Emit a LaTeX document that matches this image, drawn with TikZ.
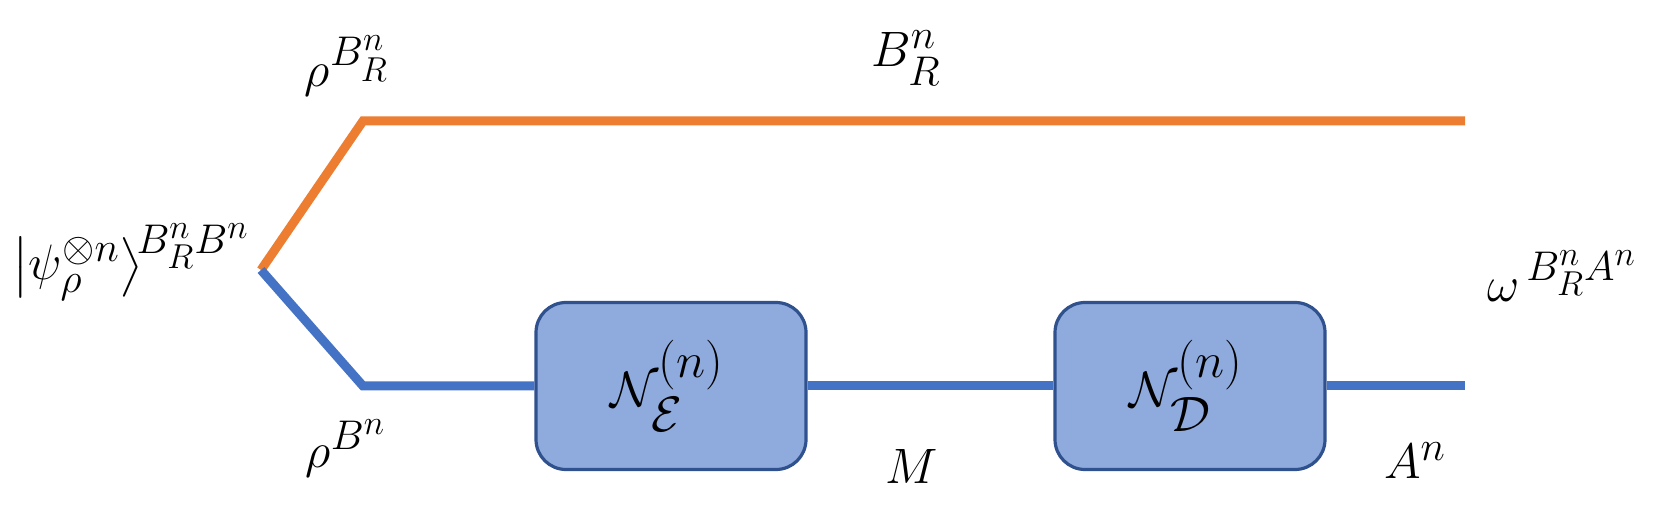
\documentclass[tikz,border=0pt]{standalone}
\usepackage{amsmath}
\DeclareMathSizes{30}{30}{22}{17}
\DeclareMathSizes{36}{36}{27}{20}
\definecolor{myorange}{HTML}{ED7D31}
\definecolor{myblue}{HTML}{4472C4}
\definecolor{boxfill}{HTML}{8FAADC}
\definecolor{boxborder}{HTML}{2F528F}
\begin{document}
\begin{tikzpicture}[x=0.5pt,y=-0.5pt,
  wire/.style={line width=4.5pt},
  orangewire/.style={wire,draw=myorange},
  bluewire/.style={wire,draw=myblue},
  chan/.style={draw=boxborder,line width=1.6pt,fill=boxfill,rounded corners=15pt,
    minimum width=135pt,minimum height=83.5pt,inner sep=0pt,
    font=\fontsize{36}{40}\selectfont},
  lab/.style={font=\fontsize{30}{34}\selectfont,inner sep=0pt}]
\useasboundingbox (0,0) rectangle (1663,517);
\coordinate (v) at (261,270);
\coordinate (tl) at (363,121);
\coordinate (tr) at (1465,121);
\coordinate (bl) at (363,386);
\coordinate (br) at (1465,386);
\node[chan] (E) at (671,386) {$\mathcal{N}_{\mathcal{E}}^{(n)}$\hspace*{4pt}};
\node[chan] (D) at (1190,386) {$\mathcal{N}_{\mathcal{D}}^{(n)}$\hspace*{4pt}};
\draw[orangewire] (v) -- (tl) -- (tr);
\draw[bluewire] (v) -- (bl) -- (E.west);
\draw[bluewire] (E.east) -- (D.west);
\draw[bluewire] (D.east) -- (br);
\node[lab,anchor=west] (ket) at (12,262) {$\left|\psi_{\rho}^{\otimes n}\right\rangle^{\!B_R^nB^n}$};
\node[lab] (rt) at (347,66) {$\rho^{B_R^n}$};
\node[lab] (bt) at (906,58) {$B_R^n$};
\node[lab] (om) at (1562,276) {$\omega^{\,B_R^nA^n}$};
\node[lab] (rb) at (346,448) {$\rho^{B^n}$};
\node[lab] (m) at (912,466) {$M$};
\node[lab] (an) at (1415,461) {$A^n$};
\end{tikzpicture}
\end{document}
